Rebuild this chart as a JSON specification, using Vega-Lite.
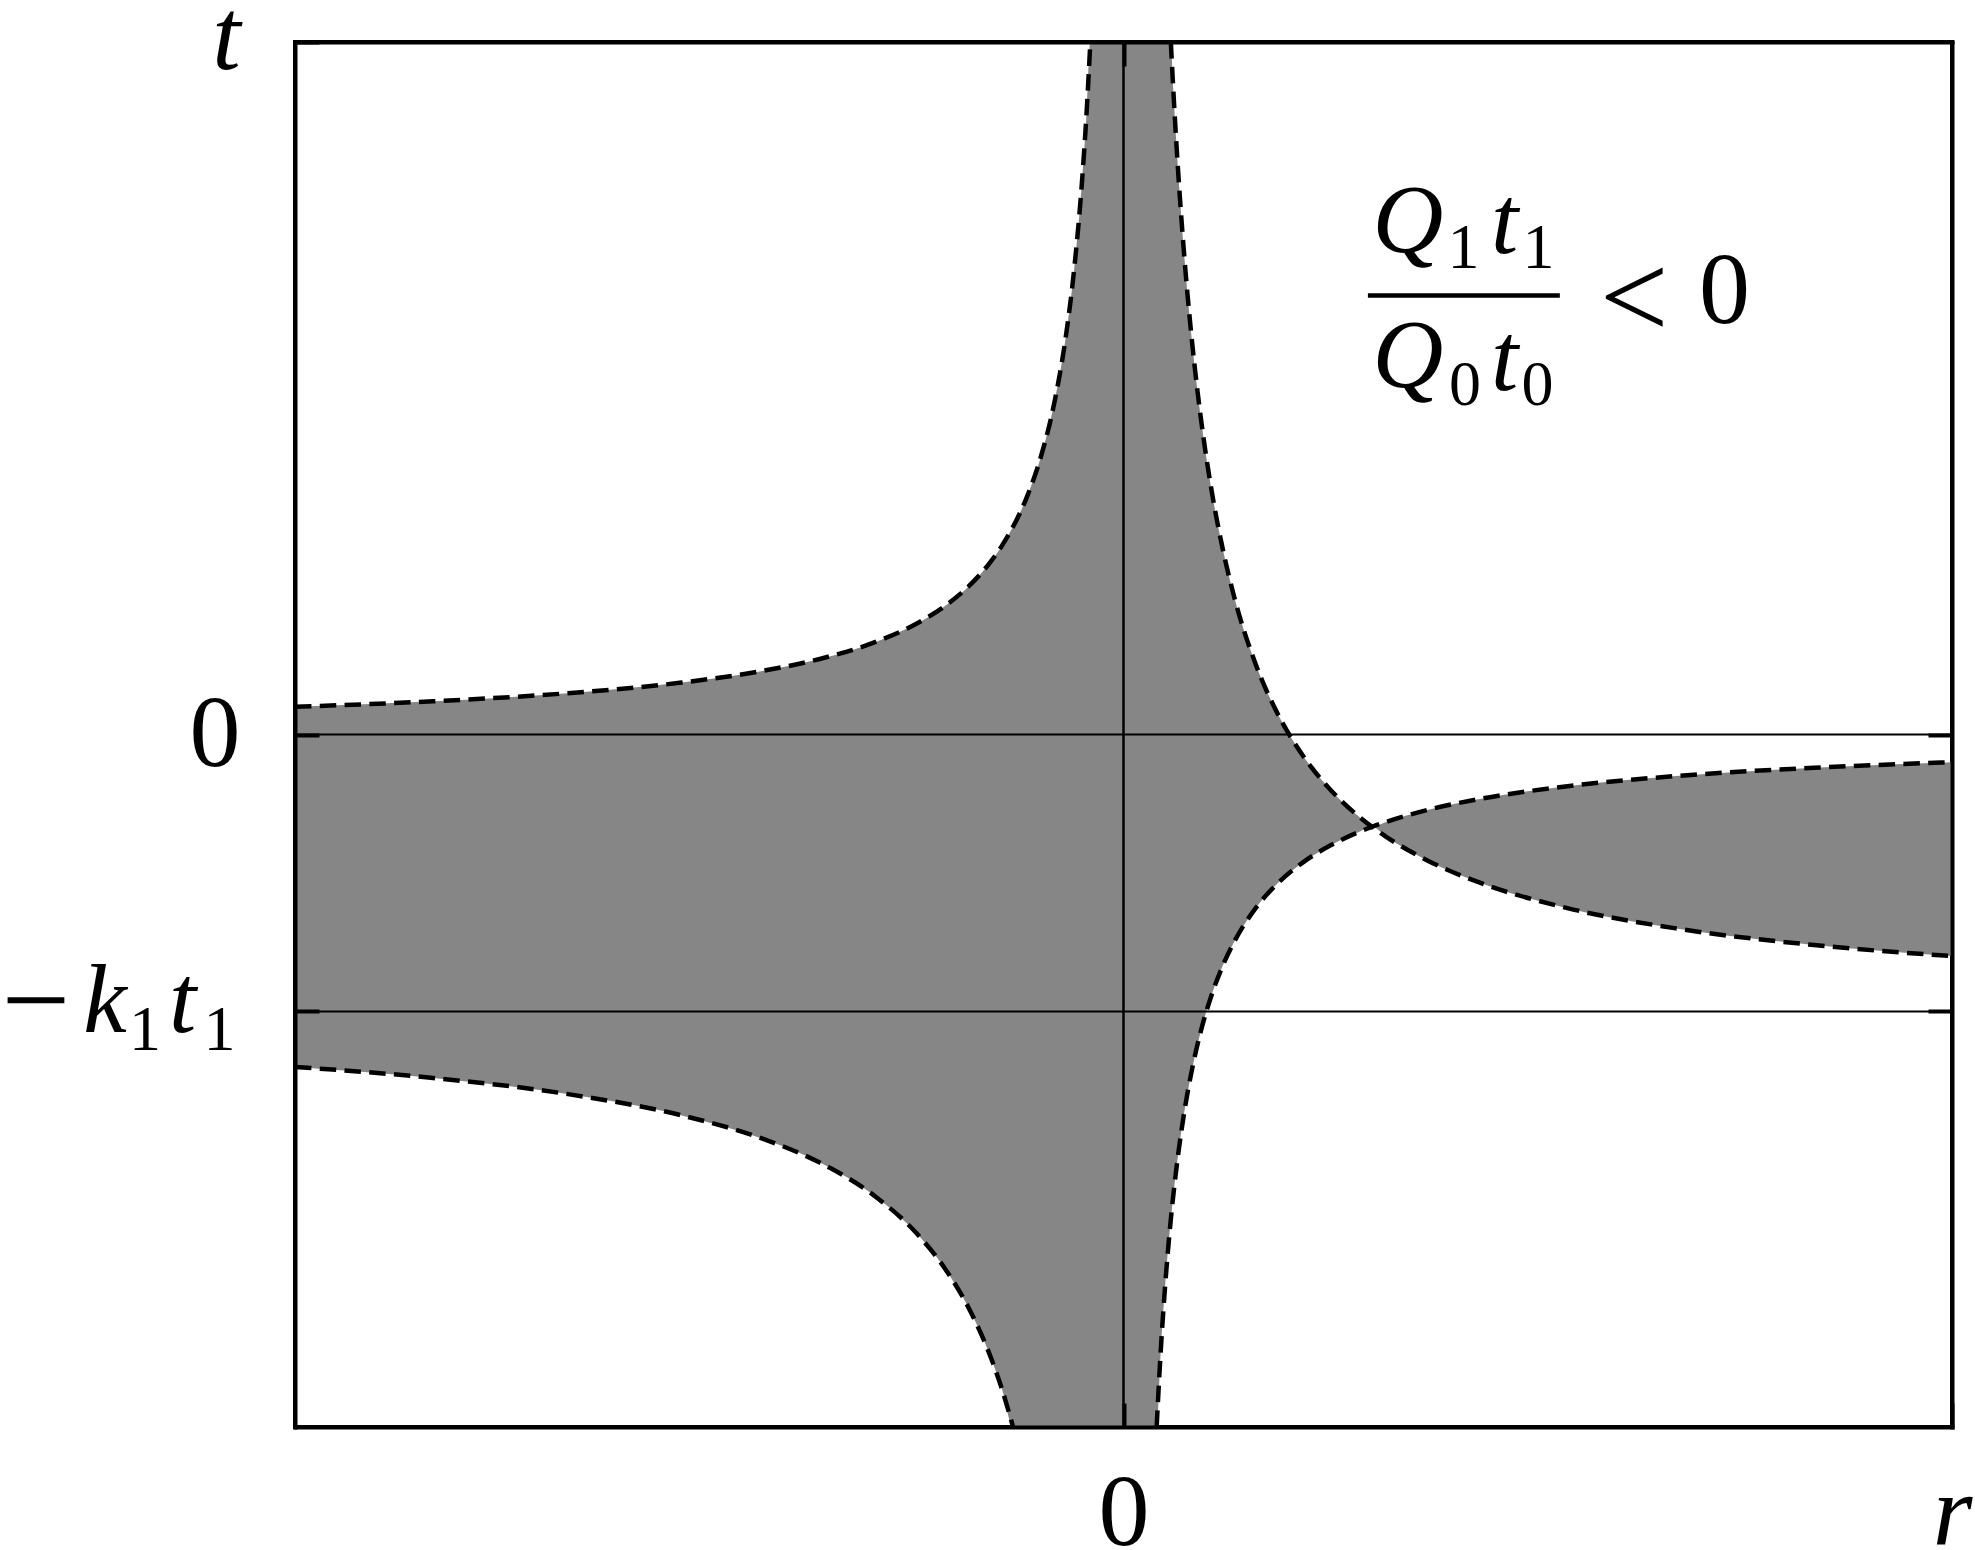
{
  "$schema": "https://vega.github.io/schema/vega-lite/v6.json",
  "width": 1657,
  "height": 1385,
  "autosize": {"type": "none"},
  "padding": {"left": 295, "top": 42, "right": 23, "bottom": 123},
  "background": "white",
  "config": {
    "view": {"stroke": "black", "strokeWidth": 4},
    "axis": {"grid": false}
  },
  "datasets": {
    "region": [
      {"r": -3, "lo": -1.2, "hi": 0.1},
      {"r": -2.5, "lo": -1.24, "hi": 0.12},
      {"r": -2, "lo": -1.3, "hi": 0.15},
      {"r": -1.6, "lo": -1.375, "hi": 0.1875},
      {"r": -1.3, "lo": -1.4615, "hi": 0.2308},
      {"r": -1.1, "lo": -1.5455, "hi": 0.2727},
      {"r": -0.9, "lo": -1.6667, "hi": 0.3333},
      {"r": -0.75, "lo": -1.8, "hi": 0.4},
      {"r": -0.65, "lo": -1.9231, "hi": 0.4615},
      {"r": -0.55, "lo": -2.0909, "hi": 0.5455},
      {"r": -0.48, "lo": -2.25, "hi": 0.625},
      {"r": -0.44, "lo": -2.3636, "hi": 0.6818},
      {"r": -0.4, "lo": -2.5, "hi": 0.75},
      {"r": -0.35, "lo": -2.5, "hi": 0.8571},
      {"r": -0.3, "lo": -2.5, "hi": 1.0},
      {"r": -0.25, "lo": -2.5, "hi": 1.2},
      {"r": -0.21, "lo": -2.5, "hi": 1.4286},
      {"r": -0.18, "lo": -2.5, "hi": 1.6667},
      {"r": -0.15, "lo": -2.5, "hi": 2.0},
      {"r": -0.135, "lo": -2.5, "hi": 2.2222},
      {"r": -0.12, "lo": -2.5, "hi": 2.5},
      {"r": 0.12, "lo": -2.5, "hi": 2.5},
      {"r": 0.135, "lo": -2.2222, "hi": 2.5},
      {"r": 0.15, "lo": -2.0, "hi": 2.5},
      {"r": 0.1714, "lo": -1.75, "hi": 2.5},
      {"r": 0.18, "lo": -1.6667, "hi": 2.3333},
      {"r": 0.19, "lo": -1.5789, "hi": 2.1579},
      {"r": 0.2, "lo": -1.5, "hi": 2.0},
      {"r": 0.22, "lo": -1.3636, "hi": 1.7273},
      {"r": 0.25, "lo": -1.2, "hi": 1.4},
      {"r": 0.28, "lo": -1.0714, "hi": 1.1429},
      {"r": 0.32, "lo": -0.9375, "hi": 0.875},
      {"r": 0.36, "lo": -0.8333, "hi": 0.6667},
      {"r": 0.4, "lo": -0.75, "hi": 0.5},
      {"r": 0.48, "lo": -0.625, "hi": 0.25},
      {"r": 0.55, "lo": -0.5455, "hi": 0.0909},
      {"r": 0.65, "lo": -0.4615, "hi": -0.0769},
      {"r": 0.75, "lo": -0.4, "hi": -0.2},
      {"r": 0.85, "lo": -0.3529, "hi": -0.2941},
      {"r": 0.9, "lo": -0.3333, "hi": -0.3333},
      {"r": 0.95, "lo": -0.3684, "hi": -0.3158},
      {"r": 1.1, "lo": -0.4545, "hi": -0.2727},
      {"r": 1.3, "lo": -0.5385, "hi": -0.2308},
      {"r": 1.6, "lo": -0.625, "hi": -0.1875},
      {"r": 2, "lo": -0.7, "hi": -0.15},
      {"r": 2.5, "lo": -0.76, "hi": -0.12},
      {"r": 3, "lo": -0.8, "hi": -0.1}
    ],
    "curves": [
      {"branch": "a", "r": -3, "t": 0.1},
      {"branch": "a", "r": -2.5, "t": 0.12},
      {"branch": "a", "r": -2, "t": 0.15},
      {"branch": "a", "r": -1.6, "t": 0.1875},
      {"branch": "a", "r": -1.3, "t": 0.2308},
      {"branch": "a", "r": -1.1, "t": 0.2727},
      {"branch": "a", "r": -0.9, "t": 0.3333},
      {"branch": "a", "r": -0.75, "t": 0.4},
      {"branch": "a", "r": -0.65, "t": 0.4615},
      {"branch": "a", "r": -0.55, "t": 0.5455},
      {"branch": "a", "r": -0.48, "t": 0.625},
      {"branch": "a", "r": -0.44, "t": 0.6818},
      {"branch": "a", "r": -0.4, "t": 0.75},
      {"branch": "a", "r": -0.35, "t": 0.8571},
      {"branch": "a", "r": -0.3, "t": 1.0},
      {"branch": "a", "r": -0.25, "t": 1.2},
      {"branch": "a", "r": -0.21, "t": 1.4286},
      {"branch": "a", "r": -0.18, "t": 1.6667},
      {"branch": "a", "r": -0.15, "t": 2.0},
      {"branch": "a", "r": -0.135, "t": 2.2222},
      {"branch": "a", "r": -0.12, "t": 2.5},
      {"branch": "b", "r": 0.12, "t": -2.5},
      {"branch": "b", "r": 0.135, "t": -2.2222},
      {"branch": "b", "r": 0.15, "t": -2.0},
      {"branch": "b", "r": 0.1714, "t": -1.75},
      {"branch": "b", "r": 0.18, "t": -1.6667},
      {"branch": "b", "r": 0.2, "t": -1.5},
      {"branch": "b", "r": 0.22, "t": -1.3636},
      {"branch": "b", "r": 0.25, "t": -1.2},
      {"branch": "b", "r": 0.28, "t": -1.0714},
      {"branch": "b", "r": 0.32, "t": -0.9375},
      {"branch": "b", "r": 0.36, "t": -0.8333},
      {"branch": "b", "r": 0.4, "t": -0.75},
      {"branch": "b", "r": 0.48, "t": -0.625},
      {"branch": "b", "r": 0.55, "t": -0.5455},
      {"branch": "b", "r": 0.65, "t": -0.4615},
      {"branch": "b", "r": 0.75, "t": -0.4},
      {"branch": "b", "r": 0.85, "t": -0.3529},
      {"branch": "b", "r": 0.9, "t": -0.3333},
      {"branch": "b", "r": 0.95, "t": -0.3158},
      {"branch": "b", "r": 1.1, "t": -0.2727},
      {"branch": "b", "r": 1.3, "t": -0.2308},
      {"branch": "b", "r": 1.6, "t": -0.1875},
      {"branch": "b", "r": 2, "t": -0.15},
      {"branch": "b", "r": 2.5, "t": -0.12},
      {"branch": "b", "r": 3, "t": -0.1},
      {"branch": "c", "r": -3, "t": -1.2},
      {"branch": "c", "r": -2.5, "t": -1.24},
      {"branch": "c", "r": -2, "t": -1.3},
      {"branch": "c", "r": -1.6, "t": -1.375},
      {"branch": "c", "r": -1.3, "t": -1.4615},
      {"branch": "c", "r": -1.1, "t": -1.5455},
      {"branch": "c", "r": -0.9, "t": -1.6667},
      {"branch": "c", "r": -0.75, "t": -1.8},
      {"branch": "c", "r": -0.65, "t": -1.9231},
      {"branch": "c", "r": -0.55, "t": -2.0909},
      {"branch": "c", "r": -0.48, "t": -2.25},
      {"branch": "c", "r": -0.44, "t": -2.3636},
      {"branch": "c", "r": -0.4, "t": -2.5},
      {"branch": "d", "r": 0.1714, "t": 2.5},
      {"branch": "d", "r": 0.18, "t": 2.3333},
      {"branch": "d", "r": 0.19, "t": 2.1579},
      {"branch": "d", "r": 0.2, "t": 2.0},
      {"branch": "d", "r": 0.22, "t": 1.7273},
      {"branch": "d", "r": 0.25, "t": 1.4},
      {"branch": "d", "r": 0.28, "t": 1.1429},
      {"branch": "d", "r": 0.32, "t": 0.875},
      {"branch": "d", "r": 0.36, "t": 0.6667},
      {"branch": "d", "r": 0.4, "t": 0.5},
      {"branch": "d", "r": 0.48, "t": 0.25},
      {"branch": "d", "r": 0.55, "t": 0.0909},
      {"branch": "d", "r": 0.65, "t": -0.0769},
      {"branch": "d", "r": 0.75, "t": -0.2},
      {"branch": "d", "r": 0.85, "t": -0.2941},
      {"branch": "d", "r": 0.9, "t": -0.3333},
      {"branch": "d", "r": 0.95, "t": -0.3684},
      {"branch": "d", "r": 1.1, "t": -0.4545},
      {"branch": "d", "r": 1.3, "t": -0.5385},
      {"branch": "d", "r": 1.6, "t": -0.625},
      {"branch": "d", "r": 2, "t": -0.7},
      {"branch": "d", "r": 2.5, "t": -0.76},
      {"branch": "d", "r": 3, "t": -0.8}
    ],
    "hlines": [{"t": 0}, {"t": -1}],
    "vlines": [{"r": 0}],
    "fracbar": [{"r1": 0.885, "r2": 1.58, "t": 1.585}],
    "glyphItalic": [
      {"r": 1.03, "t": 1.742, "g": "Q"},
      {"r": 1.38, "t": 1.738, "g": "t"},
      {"r": 1.03, "t": 1.2545, "g": "Q"},
      {"r": 1.38, "t": 1.2437, "g": "t"},
      {"r": -3.688, "t": -1.074, "g": "k"},
      {"r": -3.407, "t": -1.074, "g": "t"}
    ],
    "glyphUpright": [
      {"r": 2.176, "t": 1.486, "g": "0"}
    ],
    "glyphLarge": [
      {"r": 1.849, "t": 1.431, "g": "<"},
      {"r": -3.938, "t": -1.108, "g": "−"}
    ],
    "glyphSub": [
      {"r": 1.231, "t": 1.684, "g": "1"},
      {"r": 1.503, "t": 1.684, "g": "1"},
      {"r": 1.2366, "t": 1.1895, "g": "0"},
      {"r": 1.499, "t": 1.1895, "g": "0"},
      {"r": -3.543, "t": -1.139, "g": "1"},
      {"r": -3.273, "t": -1.139, "g": "1"}
    ]
  },
  "layer": [
    {
      "data": {"name": "region"},
      "mark": {"type": "area", "color": "#868686", "interpolate": "monotone"},
      "encoding": {
        "x": {
          "field": "r", "type": "quantitative",
          "scale": {"domain": [-3, 3], "nice": false, "zero": false},
          "axis": {
            "orient": "bottom", "values": [0, 3], "title": null,
            "labelExpr": "datum.value == 0 ? '0' : 'r'",
            "labelFont": "Liberation Serif", "labelFontSize": 102, "labelColor": "black",
            "labelFontStyle": {"condition": {"test": "datum.value > 1", "value": "italic"}, "value": "normal"},
            "labelPadding": 60, "labelFlush": false, "labelOverlap": false, "labelBound": false,
            "ticks": true, "tickSize": -24, "tickWidth": 4, "tickColor": "black",
            "domain": true, "domainWidth": 4, "domainColor": "black", "domainCap": "square",
            "zindex": 1
          }
        },
        "y": {
          "field": "lo", "type": "quantitative",
          "scale": {"domain": [-2.5, 2.5], "nice": false, "zero": false},
          "axis": {
            "orient": "left", "values": [2.5, 0, -1], "title": null,
            "labelExpr": "datum.value == 0 ? '0' : (datum.value < 0 ? '' : 't')",
            "labelFont": "Liberation Serif", "labelFontSize": 102, "labelColor": "black",
            "labelFontStyle": {"condition": {"test": "datum.value != 0", "value": "italic"}, "value": "normal"},
            "labelOffset": {"condition": {"test": "datum.value > 2", "value": -5}, "value": 0},
            "labelPadding": 79, "labelFlush": false, "labelOverlap": false, "labelBound": false,
            "ticks": true, "tickSize": -24, "tickWidth": 4, "tickColor": "black",
            "domain": true, "domainWidth": 4, "domainColor": "black", "domainCap": "square",
            "zindex": 1
          }
        },
        "y2": {"field": "hi"}
      }
    },
    {
      "data": {"name": "hlines"},
      "mark": {"type": "rule", "color": "black", "strokeWidth": 2},
      "encoding": {
        "y": {
          "field": "t", "type": "quantitative",
          "scale": {"domain": [-2.5, 2.5], "nice": false, "zero": false},
          "axis": {
            "orient": "right", "values": [0, -1], "title": null, "labels": false,
            "ticks": true, "tickSize": -24, "tickWidth": 4, "tickColor": "black",
            "domain": true, "domainWidth": 4, "domainColor": "black", "domainCap": "square",
            "zindex": 1
          }
        }
      }
    },
    {
      "data": {"name": "vlines"},
      "mark": {"type": "rule", "color": "black", "strokeWidth": 2.5},
      "encoding": {
        "x": {
          "field": "r", "type": "quantitative",
          "scale": {"domain": [-3, 3], "nice": false, "zero": false},
          "axis": {
            "orient": "top", "values": [0], "title": null, "labels": false,
            "ticks": true, "tickSize": -24, "tickWidth": 4, "tickColor": "black",
            "domain": true, "domainWidth": 4, "domainColor": "black", "domainCap": "square",
            "zindex": 1
          }
        }
      }
    },
    {
      "data": {"name": "curves"},
      "mark": {"type": "line", "color": "black", "strokeWidth": 4.5, "strokeDash": [16.5, 8.3], "interpolate": "monotone"},
      "encoding": {
        "x": {"field": "r", "type": "quantitative", "scale": {"domain": [-3, 3], "nice": false, "zero": false}, "axis": null},
        "y": {"field": "t", "type": "quantitative", "scale": {"domain": [-2.5, 2.5], "nice": false, "zero": false}, "axis": null},
        "detail": {"field": "branch", "type": "nominal"}
      }
    },
    {
      "data": {"name": "fracbar"},
      "mark": {"type": "rule", "color": "black", "strokeWidth": 4.5},
      "encoding": {
        "x": {"field": "r1", "type": "quantitative", "scale": {"domain": [-3, 3], "nice": false, "zero": false}, "axis": null},
        "x2": {"field": "r2"},
        "y": {"field": "t", "type": "quantitative", "scale": {"domain": [-2.5, 2.5], "nice": false, "zero": false}, "axis": null}
      }
    },
    {
      "data": {"name": "glyphItalic"},
      "mark": {"type": "text", "font": "Liberation Serif", "fontSize": 98, "fontStyle": "italic", "align": "center", "baseline": "alphabetic", "color": "black"},
      "encoding": {
        "x": {"field": "r", "type": "quantitative", "scale": {"domain": [-3, 3], "nice": false, "zero": false}, "axis": null},
        "y": {"field": "t", "type": "quantitative", "scale": {"domain": [-2.5, 2.5], "nice": false, "zero": false}, "axis": null},
        "text": {"field": "g"}
      }
    },
    {
      "data": {"name": "glyphUpright"},
      "mark": {"type": "text", "font": "Liberation Serif", "fontSize": 102, "align": "center", "baseline": "alphabetic", "color": "black"},
      "encoding": {
        "x": {"field": "r", "type": "quantitative", "scale": {"domain": [-3, 3], "nice": false, "zero": false}, "axis": null},
        "y": {"field": "t", "type": "quantitative", "scale": {"domain": [-2.5, 2.5], "nice": false, "zero": false}, "axis": null},
        "text": {"field": "g"}
      }
    },
    {
      "data": {"name": "glyphLarge"},
      "mark": {"type": "text", "font": "Liberation Serif", "fontSize": 122, "align": "center", "baseline": "alphabetic", "color": "black"},
      "encoding": {
        "x": {"field": "r", "type": "quantitative", "scale": {"domain": [-3, 3], "nice": false, "zero": false}, "axis": null},
        "y": {"field": "t", "type": "quantitative", "scale": {"domain": [-2.5, 2.5], "nice": false, "zero": false}, "axis": null},
        "text": {"field": "g"}
      }
    },
    {
      "data": {"name": "glyphSub"},
      "mark": {"type": "text", "font": "Liberation Serif", "fontSize": 64, "align": "center", "baseline": "alphabetic", "color": "black"},
      "encoding": {
        "x": {"field": "r", "type": "quantitative", "scale": {"domain": [-3, 3], "nice": false, "zero": false}, "axis": null},
        "y": {"field": "t", "type": "quantitative", "scale": {"domain": [-2.5, 2.5], "nice": false, "zero": false}, "axis": null},
        "text": {"field": "g"}
      }
    }
  ],
  "resolve": {"axis": {"x": "independent", "y": "independent"}}
}
